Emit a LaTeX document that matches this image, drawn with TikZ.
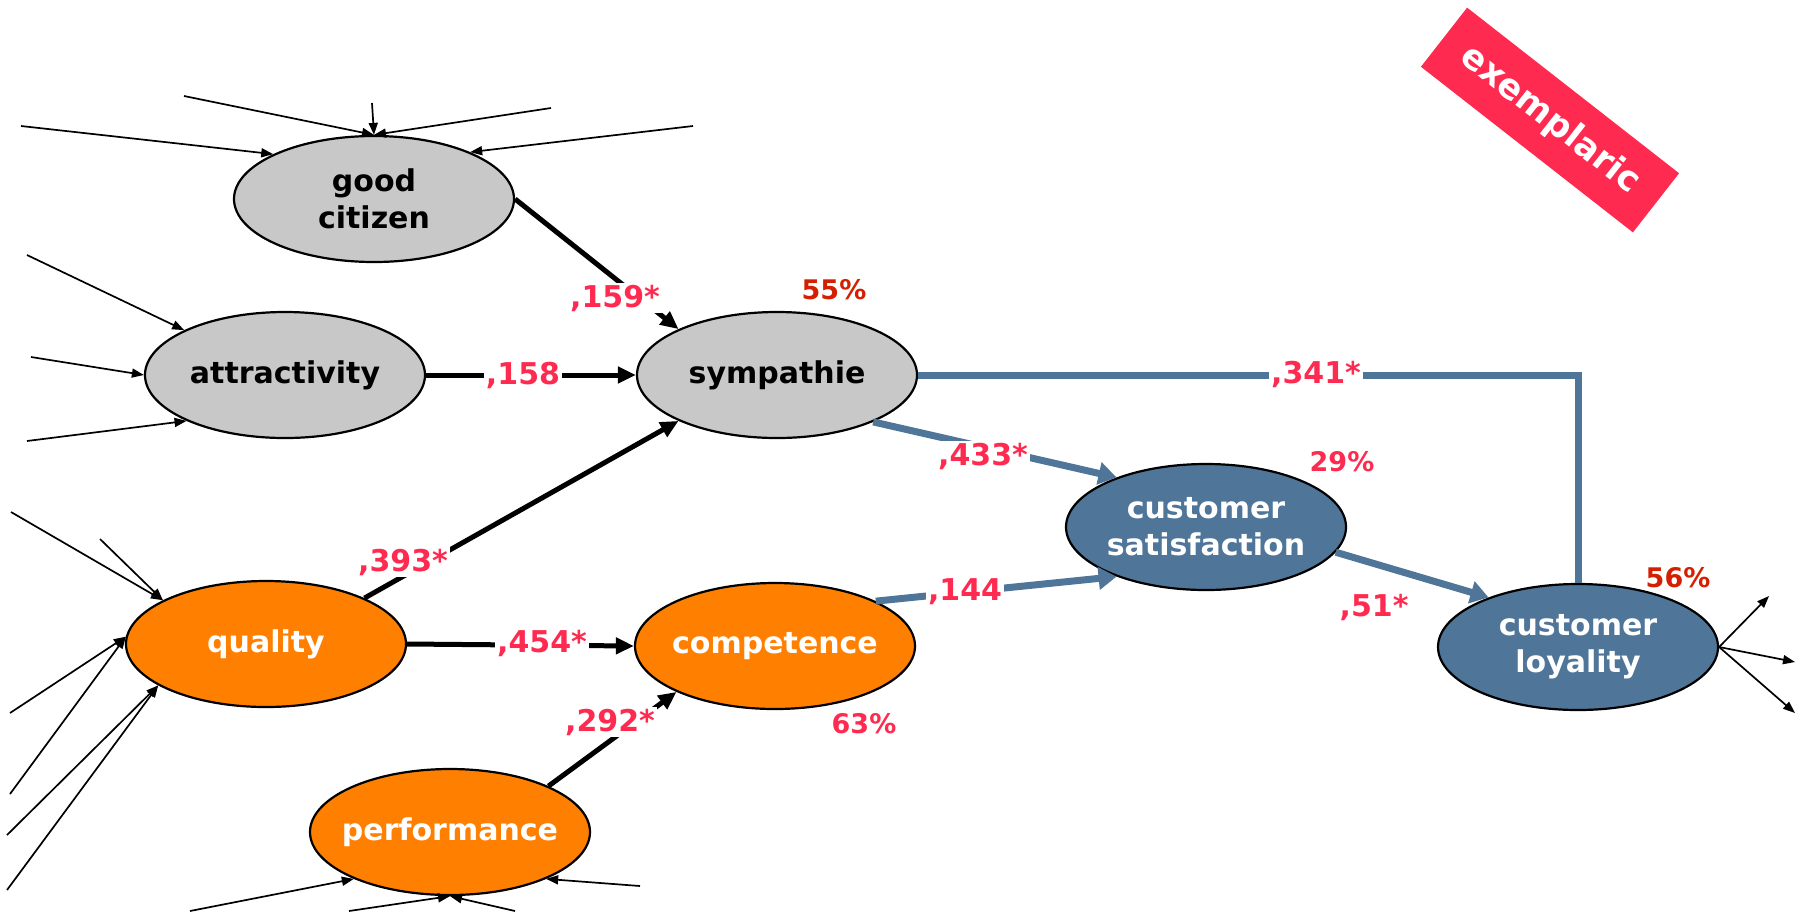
\documentclass[tikz,border=0pt]{standalone}
\usepackage{fontspec}
\setmainfont{DejaVu Sans}
\usetikzlibrary{arrows.meta,shapes.geometric}

\definecolor{nodegray}{HTML}{C8C8C8}
\definecolor{nodeorange}{HTML}{FF7F00}
\definecolor{nodeblue}{HTML}{4F7699}
\definecolor{coefred}{HTML}{FF2A50}
\definecolor{rsqred}{HTML}{D42000}

\begin{document}
\begin{tikzpicture}[x=1pt,y=-1pt,
  construct/.style={ellipse, draw=black, line width=2.2pt, minimum width=280pt,
    minimum height=126pt, inner xsep=-60pt, inner ysep=-30pt, align=center,
    font=\fontsize{30}{37}\selectfont\bfseries},
  grayc/.style={construct, fill=nodegray, text=black},
  orangec/.style={construct, fill=nodeorange, text=white},
  bluec/.style={construct, fill=nodeblue, text=white},
  indicator/.style={line width=1.7pt, -{Triangle[length=12pt,width=9pt]}},
  effect/.style={line width=5pt, -{Triangle[length=18pt,width=16pt]}},
  beffect/.style={line width=7pt, draw=nodeblue, -{Triangle[length=18pt,width=22pt]}},
  bline/.style={line width=7pt, draw=nodeblue},
  coef/.style={text=coefred, font=\fontsize{30}{33}\selectfont\bfseries, fill=white, inner sep=2pt},
  rsq/.style={font=\fontsize{27}{30}\selectfont\bfseries, inner sep=0pt},
]
\useasboundingbox (0,0) rectangle (1795,914);

% latent constructs
\node[grayc]   (gc)   at (374,199) {good\\citizen};
\node[grayc]   (att)  at (285,375) {attractivity};
\node[grayc]   (sym)  at (777,375) {sympathie};
\node[orangec] (qual) at (266,644) {quality};
\node[orangec] (comp) at (775,646) {competence};
\node[orangec] (perf) at (450,832) {performance};
\node[bluec]   (cs)   at (1206,527) {customer\\satisfaction};
\node[bluec]   (cl)   at (1578,647) {customer\\loyality};

% free ends of the indicator arrows
\coordinate (g1) at (21,126);
\coordinate (g2) at (184,96);
\coordinate (g3) at (372,103);
\coordinate (g4) at (551,108);
\coordinate (g5) at (693,126);
\coordinate (a1) at (27,255);
\coordinate (a2) at (31,357);
\coordinate (a3) at (27,441);
\coordinate (q1) at (11,512);
\coordinate (q2) at (100,539);
\coordinate (q3) at (10,713);
\coordinate (q4) at (10,794);
\coordinate (q5) at (7,835);
\coordinate (q6) at (7,890);
\coordinate (p1) at (190,911);
\coordinate (p2) at (349,911);
\coordinate (p3) at (515,911);
\coordinate (p4) at (640,886);
\coordinate (l1) at (1769,596);
\coordinate (l2) at (1795,662);
\coordinate (l3) at (1795,713);

% indicators
\draw[indicator] (g1) -- (gc.156);
\draw[indicator] (g2) -- (gc.north);
\draw[indicator] (g3) -- (gc.north);
\draw[indicator] (g4) -- (gc.north);
\draw[indicator] (g5) -- (gc.26);
\draw[indicator] (a1) -- (att.156);
\draw[indicator] (a2) -- (att.west);
\draw[indicator] (a3) -- (att.205);
\draw[indicator] (q1) -- (qual.157);
\draw[indicator] (q2) -- (qual.157);
\draw[indicator] (q3) -- (qual.177);
\draw[indicator] (q4) -- (qual.177);
\draw[indicator] (q5) -- (qual.201);
\draw[indicator] (q6) -- (qual.201);
\draw[indicator] (p1) -- (perf.206);
\draw[indicator] (p2) -- (perf.south);
\draw[indicator] (p3) -- (perf.south);
\draw[indicator] (p4) -- (perf.334);
\draw[indicator] (cl.east) -- (l1);
\draw[indicator] (cl.east) -- (l2);
\draw[indicator] (cl.east) -- (l3);

% structural paths
\draw[effect] (gc.east) -- (sym.155);
\draw[effect] (att.east) -- (sym.west);
\draw[effect] (qual.25) -- (sym.205);
\draw[effect] (qual.east) -- (comp.west);
\draw[effect] (perf.25) -- (comp.205);
\draw[beffect] (sym.334) -- (cs.151);
\draw[beffect] (comp.24) -- (cs.209);
\draw[beffect] (cs.349) -- (cl.151);
\draw[bline] (sym.east) -| (cl.north);

% path coefficients
\node[coef] (c159) at (615,298) {,159*};
\node[coef] (c158) at (523,375) {,158};
\node[coef] (c393) at (403,562) {,393*};
\node[coef] (c454) at (542,643) {,454*};
\node[coef] (c292) at (610,722) {,292*};
\node[coef] (c433) at (983,456) {,433*};
\node[coef] (c144) at (965,592) {,144};
\node[coef] (c341) at (1316,374) {,341*};
\node[coef] (c51)  at (1374,607) {,51*};

% explained variance
\node[rsq, text=rsqred]  (r55) at (834,290) {55\%};
\node[rsq, text=coefred] (r29) at (1342,462) {29\%};
\node[rsq, text=coefred] (r63) at (864,724) {63\%};
\node[rsq, text=rsqred]  (r56) at (1678,578) {56\%};

% stamp
\node[rotate=-38, fill=coefred, text=white, minimum width=269pt, minimum height=75pt,
  inner sep=0pt, font=\fontsize{35}{38}\selectfont\bfseries] (stamp) at (1550,120) {exemplaric};
\end{tikzpicture}
\end{document}
